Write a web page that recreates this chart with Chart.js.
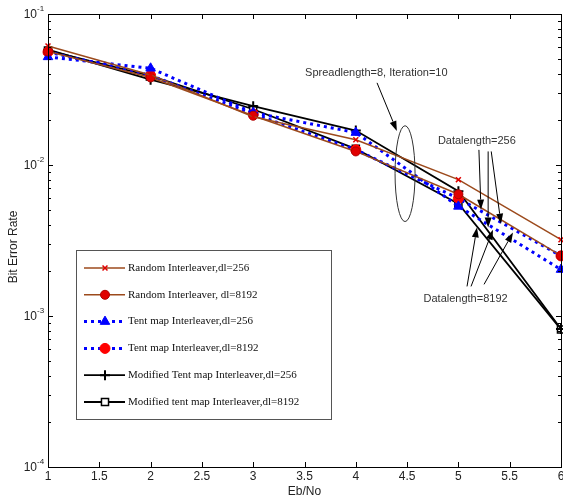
<!DOCTYPE html>
<html>
<head>
<meta charset="utf-8">
<script src="https://cdn.jsdelivr.net/npm/chart.js@4.4.0/dist/chart.umd.min.js"></script>
<style>
  html, body { margin: 0; padding: 0; background: #fff; }
</style>
</head>
<body>
<canvas id="ber" width="563" height="499"></canvas>
<script>
// Eb/No points and BER values
const ebno = [1, 2, 3, 4, 5, 6];
const randomDl256 = [0.0614, 0.0395, 0.0209, 0.0147, 0.0080, 0.0032];
const randomDl8192 = [0.0565, 0.0380, 0.0212, 0.0123, 0.0064, 0.00251];
const tentDl256 = [0.0520, 0.0437, 0.0222, 0.0164, 0.00532, 0.00203];
const tentDl8192 = [0.0560, 0.0392, 0.0218, 0.0126, 0.0060, 0.00250];
const modDl256 = [0.0580, 0.0367, 0.0245, 0.0169, 0.0067, 0.00082];
const modDl8192 = [0.0572, 0.0389, 0.0234, 0.0128, 0.00555, 0.000815];

const xTicks = [1, 1.5, 2, 2.5, 3, 3.5, 4, 4.5, 5, 5.5, 6];
const yDecades = [-4, -3, -2, -1];

const seriesNames = [
  'Random Interleaver,dl=256',
  'Random Interleaver, dl=8192',
  'Tent map Interleaver,dl=256',
  'Tent map Interleaver,dl=8192',
  'Modified Tent map Interleaver,dl=256',
  'Modified tent map Interleaver,dl=8192'
];

const brown = '#9c4a1c';
const blue = '#0000ff';

function pts(ys) {
  return ys.map((y, i) => ({ x: ebno[i], y }));
}

const datasets = [
  {
    label: seriesNames[0], data: pts(randomDl256),
    borderColor: brown, borderWidth: 1.5,
    pointStyle: 'crossRot', pointRadius: 3.5, pointBorderColor: '#e00000', pointBorderWidth: 1.5
  },
  {
    label: seriesNames[1], data: pts(randomDl8192),
    borderColor: brown, borderWidth: 1.5,
    pointStyle: 'circle', pointRadius: 4.5, pointBackgroundColor: '#e00000', pointBorderColor: '#b00000', pointBorderWidth: 1
  },
  {
    label: seriesNames[2], data: pts(tentDl256),
    borderColor: blue, borderWidth: 3, borderDash: [3, 4],
    pointStyle: 'triangle', pointRadius: 5.5, pointBackgroundColor: blue, pointBorderColor: blue, pointBorderWidth: 1
  },
  {
    label: seriesNames[3], data: pts(tentDl8192),
    borderColor: blue, borderWidth: 3, borderDash: [3, 4],
    pointStyle: 'circle', pointRadius: 5, pointBackgroundColor: '#ff0000', pointBorderColor: '#ff0000', pointBorderWidth: 1
  },
  {
    label: seriesNames[4], data: pts(modDl256),
    borderColor: '#000', borderWidth: 1.8,
    pointStyle: 'cross', pointRadius: 5, pointBorderColor: '#000', pointBorderWidth: 2
  },
  {
    label: seriesNames[5], data: pts(modDl8192),
    borderColor: '#000', borderWidth: 1.8,
    pointStyle: 'rect', pointRadius: 5, pointBackgroundColor: '#fff', pointBorderColor: '#000', pointBorderWidth: 1.5
  }
];
datasets.forEach((d) => { d.tension = 0; d.fill = false; d.clip = false; });

function arrow(ctx, x1, y1, x2, y2) {
  const a = Math.atan2(y2 - y1, x2 - x1);
  const len = 10, w = 3.5;
  const bx = x2 - len * Math.cos(a), by = y2 - len * Math.sin(a);
  ctx.beginPath();
  ctx.moveTo(x1, y1);
  ctx.lineTo(bx, by);
  ctx.stroke();
  ctx.beginPath();
  ctx.moveTo(x2, y2);
  ctx.lineTo(bx + w * Math.sin(a), by - w * Math.cos(a));
  ctx.lineTo(bx - w * Math.sin(a), by + w * Math.cos(a));
  ctx.closePath();
  ctx.fill();
}

const decorations = {
  id: 'decorations',
  afterDraw(chart) {
    const { ctx, chartArea: a, scales } = chart;
    const sx = scales.x, sy = scales.y;
    const X = (v) => sx.getPixelForValue(v);
    const Y = (v) => sy.getPixelForValue(v);
    ctx.save();

    // frame
    ctx.strokeStyle = '#000';
    ctx.lineWidth = 1;
    ctx.setLineDash([]);
    ctx.strokeRect(Math.round(a.left) + 0.5, Math.round(a.top) + 0.5,
      Math.round(a.right - a.left), Math.round(a.bottom - a.top));

    // inward ticks
    ctx.beginPath();
    xTicks.forEach((t) => {
      const px = Math.round(X(t)) + 0.5;
      ctx.moveTo(px, a.bottom); ctx.lineTo(px, a.bottom - 5);
      ctx.moveTo(px, a.top); ctx.lineTo(px, a.top + 5);
    });
    yDecades.forEach((e) => {
      const py = Math.round(Y(Math.pow(10, e))) + 0.5;
      ctx.moveTo(a.left, py); ctx.lineTo(a.left + 5, py);
      ctx.moveTo(a.right, py); ctx.lineTo(a.right - 5, py);
      if (e < -1) {
        for (let m = 2; m <= 9; m++) {
          const pm = Math.round(Y(m * Math.pow(10, e))) + 0.5;
          ctx.moveTo(a.left, pm); ctx.lineTo(a.left + 3, pm);
          ctx.moveTo(a.right, pm); ctx.lineTo(a.right - 3, pm);
        }
      }
    });
    ctx.stroke();

    // tick labels
    ctx.fillStyle = '#222';
    ctx.font = '12px "Liberation Sans", Arial, sans-serif';
    ctx.textAlign = 'center';
    ctx.textBaseline = 'top';
    xTicks.forEach((t) => ctx.fillText(String(t), X(t), a.bottom + 4));
    yDecades.forEach((e) => {
      const py = Y(Math.pow(10, e));
      ctx.font = '12px "Liberation Sans", Arial, sans-serif';
      ctx.textAlign = 'right';
      ctx.textBaseline = 'middle';
      ctx.fillText('10', 37, py + 1);
      ctx.font = '8px "Liberation Sans", Arial, sans-serif';
      ctx.textAlign = 'left';
      ctx.fillText(String(e), 37, py - 5);
    });

    // axis titles
    ctx.font = '12px "Liberation Sans", Arial, sans-serif';
    ctx.textAlign = 'center';
    ctx.textBaseline = 'middle';
    ctx.fillText('Eb/No', X(3.5), 492);
    ctx.save();
    ctx.translate(14, 247);
    ctx.rotate(-Math.PI / 2);
    ctx.fillText('Bit Error Rate', 0, 0);
    ctx.restore();

    // annotations
    ctx.strokeStyle = '#333';
    ctx.fillStyle = '#000';
    ctx.lineWidth = 1;
    const ex = X(4.48), eTop = Y(0.0182), eBot = Y(0.00422);
    ctx.beginPath();
    ctx.ellipse(ex, (eTop + eBot) / 2, 10, (eBot - eTop) / 2, 0, 0, Math.PI * 2);
    ctx.stroke();

    ctx.fillStyle = '#333';
    ctx.font = '11px "Liberation Sans", Arial, sans-serif';
    ctx.textAlign = 'center';
    ctx.fillText('Spreadlength=8, Iteration=10', X(4.2), Y(0.0405));
    ctx.fillText('Datalength=256', X(5.18), Y(0.0145));
    ctx.fillText('Datalength=8192', X(5.07), Y(0.00129));

    ctx.strokeStyle = '#000';
    ctx.fillStyle = '#000';
    arrow(ctx, X(4.207), Y(0.035), X(4.40), Y(0.0168));
    arrow(ctx, X(5.20), Y(0.0126), X(5.22), Y(0.00507));
    arrow(ctx, X(5.29), Y(0.0123), X(5.29), Y(0.00386));
    arrow(ctx, X(5.32), Y(0.0123), X(5.415), Y(0.00409));
    arrow(ctx, X(5.084), Y(0.00157), X(5.181), Y(0.00386));
    arrow(ctx, X(5.123), Y(0.00157), X(5.337), Y(0.00373));
    arrow(ctx, X(5.25), Y(0.00162), X(5.532), Y(0.00357));

    // legend box
    const lx = 76, ly = 250, lw = 255, lh = 169;
    ctx.fillStyle = '#fff';
    ctx.fillRect(lx, ly, lw, lh);
    ctx.strokeStyle = '#555';
    ctx.lineWidth = 1;
    ctx.strokeRect(lx + 0.5, ly + 0.5, lw, lh);
    chart.data.datasets.forEach((ds, i) => {
      const y = 268 + i * 26.8;
      ctx.strokeStyle = ds.borderColor;
      ctx.lineWidth = ds.borderWidth;
      ctx.setLineDash(ds.borderDash || []);
      ctx.beginPath();
      ctx.moveTo(84, y); ctx.lineTo(125, y);
      ctx.stroke();
      ctx.setLineDash([]);
      ctx.fillStyle = ds.pointBackgroundColor || '#fff';
      ctx.strokeStyle = ds.pointBorderColor;
      ctx.lineWidth = ds.pointBorderWidth;
      Chart.helpers.drawPoint(ctx, {
        pointStyle: ds.pointStyle, radius: ds.pointRadius, rotation: 0, borderWidth: ds.pointBorderWidth
      }, 105, y);
      ctx.fillStyle = '#111';
      ctx.font = '11px "Liberation Serif", "Times New Roman", serif';
      ctx.textAlign = 'left';
      ctx.textBaseline = 'middle';
      ctx.fillText(ds.label, 128, y);
    });

    ctx.restore();
  }
};

new Chart(document.getElementById('ber'), {
  type: 'line',
  data: { datasets },
  options: {
    responsive: false,
    animation: false,
    layout: { autoPadding: false, padding: { left: 48, right: 2, top: 14, bottom: 32 } },
    plugins: { legend: { display: false }, tooltip: { enabled: false } },
    scales: {
      x: { type: 'linear', min: 1, max: 6, display: false },
      y: { type: 'logarithmic', min: 1e-4, max: 1e-1, display: false }
    }
  },
  plugins: [decorations]
});
</script>
</body>
</html>
